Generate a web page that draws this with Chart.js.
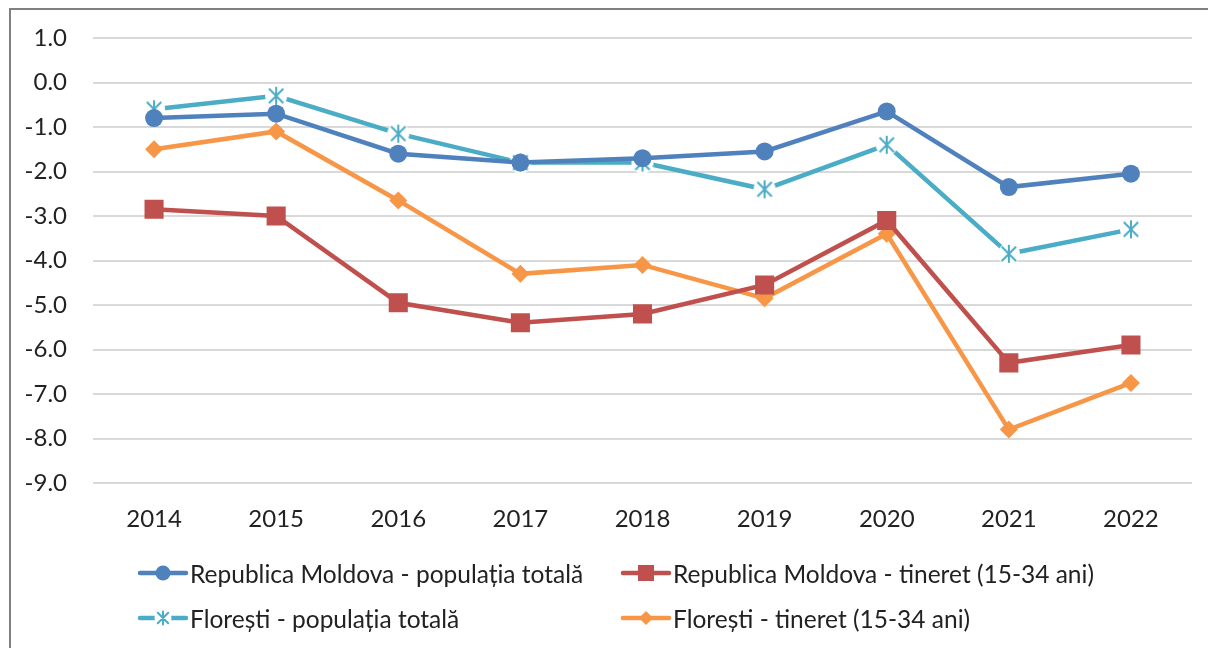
<!DOCTYPE html>
<html>
<head>
<meta charset="utf-8">
<script src="https://cdn.jsdelivr.net/npm/chart.js@4"></script>
<style>
    body { margin: 0; background: #fff; font-family: Lato, "Open Sans", sans-serif; }
    #frame {
        position: absolute; left: 9px; top: 8px; width: 1199px; height: 640px;
        border-top: 2px solid #808080; border-left: 2px solid #808080;
    }
    #wrap { position: absolute; left: 0; top: 0; width: 1208px; height: 545px; }
    #legend { position: absolute; left: 0; top: 0; width: 1208px; height: 648px; pointer-events: none; }
    .item { position: absolute; display: flex; align-items: center; height: 30px; font-size: 24.5px; color: #222; white-space: nowrap; }
    .item canvas { margin-right: 1px; }
</style>
</head>
<body>
<div id="frame"></div>
<div id="wrap"><canvas id="chart"></canvas></div>
<div id="legend"></div>
<script>
// ------------------ DATA ------------------
const years = ["2014", "2015", "2016", "2017", "2018", "2019", "2020", "2021", "2022"];
const rmTotal = [-0.8, -0.7, -1.6, -1.8, -1.7, -1.55, -0.65, -2.35, -2.05];
const rmYouth = [-2.85, -3.0, -4.95, -5.4, -5.2, -4.55, -3.1, -6.3, -5.9];
const flTotal = [-0.6, -0.3, -1.15, -1.8, -1.8, -2.4, -1.4, -3.85, -3.3];
const flYouth = [-1.5, -1.1, -2.65, -4.3, -4.1, -4.85, -3.4, -7.8, -6.75];
const yMin = -9, yMax = 1;

const labels = {
    rmTotal: "Republica Moldova - populația totală",
    rmYouth: "Republica Moldova - tineret (15-34 ani)",
    flTotal: "Florești - populația totală",
    flYouth: "Florești - tineret (15-34 ani)"
};

const BLUE = "#4F81BD", RED = "#C0504D", CYAN = "#4BACC6", ORANGE = "#F79646";

// ------------------ STAR MARKER ------------------
function drawStar(ctx, cx, cy, r, color) {
    ctx.fillStyle = "#fff";
    ctx.beginPath();
    ctx.arc(cx, cy, r + 2, 0, Math.PI * 2);
    ctx.fill();
    ctx.strokeStyle = color;
    ctx.lineWidth = 2;
    ctx.beginPath();
    ctx.moveTo(cx, cy - r); ctx.lineTo(cx, cy + r);
    ctx.moveTo(cx - r * 0.8, cy - r * 0.8); ctx.lineTo(cx + r * 0.8, cy + r * 0.8);
    ctx.moveTo(cx + r * 0.8, cy - r * 0.8); ctx.lineTo(cx - r * 0.8, cy + r * 0.8);
    ctx.stroke();
}

const starCanvas = document.createElement("canvas");
starCanvas.width = 24;
starCanvas.height = 24;
drawStar(starCanvas.getContext("2d"), 12, 12, 9, CYAN);

// ------------------ CHART ------------------
function series(label, data, color, style, radius) {
    return {
        label: label,
        data: data,
        borderColor: color,
        backgroundColor: color,
        borderWidth: 4.5,
        pointStyle: style,
        pointRadius: radius,
        pointHoverRadius: radius,
        pointBorderWidth: 0,
        tension: 0
    };
}

const datasets = [
    series(labels.rmTotal, rmTotal, BLUE, "circle", 9),
    series(labels.rmYouth, rmYouth, RED, "rect", 13.5),
    series(labels.flTotal, flTotal, CYAN, starCanvas, 10),
    series(labels.flYouth, flYouth, ORANGE, "rectRot", 9)
];

new Chart(document.getElementById("chart"), {
    type: "line",
    data: { labels: years, datasets: datasets },
    options: {
        responsive: true,
        maintainAspectRatio: false,
        animation: false,
        layout: { padding: { top: 38, right: 16, left: 0, bottom: 0 } },
        plugins: { legend: { display: false }, tooltip: { enabled: false } },
        scales: {
            x: {
                offset: true,
                grid: { display: false, drawTicks: false },
                border: { display: false },
                ticks: { color: "#222", font: { family: "Lato", size: 24 }, padding: 22 },
                afterFit: (s) => { s.height = 62; }
            },
            y: {
                min: yMin,
                max: yMax,
                grid: { color: "#D9D9D9", lineWidth: 2, drawTicks: false },
                border: { display: false },
                ticks: {
                    stepSize: 1,
                    color: "#222",
                    font: { family: "Lato", size: 24, lineHeight: 1 },
                    padding: 26,
                    callback: (v) => v.toFixed(1)
                },
                afterFit: (s) => { s.width = 93; }
            }
        }
    }
});

// ------------------ LEGEND ------------------
const legendItems = [
    { text: labels.rmTotal, color: BLUE, style: "circle", x: 137, y: 558 },
    { text: labels.rmYouth, color: RED, style: "rect", x: 620, y: 558 },
    { text: labels.flTotal, color: CYAN, style: "star", x: 137, y: 603 },
    { text: labels.flYouth, color: ORANGE, style: "rectRot", x: 620, y: 603 }
];

const legendEl = document.getElementById("legend");
legendItems.forEach(item => {
    const div = document.createElement("div");
    div.className = "item";
    div.style.left = item.x + "px";
    div.style.top = item.y + "px";

    const c = document.createElement("canvas");
    c.width = 52;
    c.height = 30;
    const ctx = c.getContext("2d");
    ctx.strokeStyle = item.color;
    ctx.lineWidth = 4.5;
    ctx.lineCap = "round";
    ctx.beginPath();
    ctx.moveTo(3, 15);
    ctx.lineTo(49, 15);
    ctx.stroke();
    ctx.fillStyle = item.color;
    if (item.style === "circle") {
        ctx.beginPath(); ctx.arc(26, 15, 7.5, 0, Math.PI * 2); ctx.fill();
    } else if (item.style === "rect") {
        ctx.fillRect(18, 7, 16, 16);
    } else if (item.style === "rectRot") {
        ctx.beginPath();
        ctx.moveTo(26, 8); ctx.lineTo(33, 15); ctx.lineTo(26, 22); ctx.lineTo(19, 15);
        ctx.closePath(); ctx.fill();
    } else {
        drawStar(ctx, 26, 15, 6.5, item.color);
    }
    div.appendChild(c);

    const span = document.createElement("span");
    span.textContent = item.text;
    div.appendChild(span);
    legendEl.appendChild(div);
});
</script>
</body>
</html>
